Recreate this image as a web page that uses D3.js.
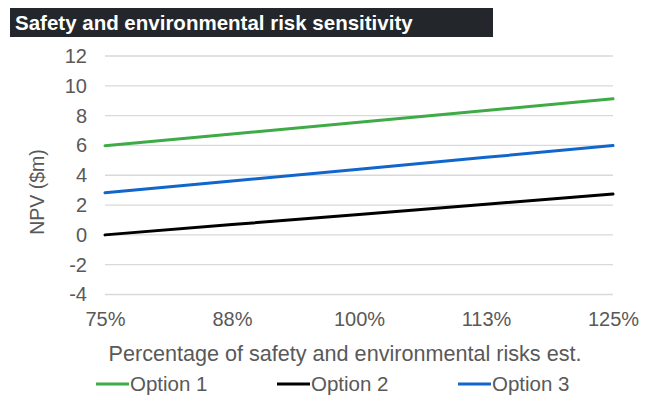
<!DOCTYPE html>
<html>
<head>
<meta charset="utf-8">
<script src="https://cdn.jsdelivr.net/npm/d3@7/dist/d3.min.js"></script>
<style>
  html, body { margin: 0; padding: 0; background: #fff; }
  svg { display: block; }
  text { font-family: "Liberation Sans", Arial, sans-serif; }
</style>
</head>
<body>
<svg id="chart" width="658" height="396"></svg>
<script>
// Risk estimate as a percentage of the base case
const riskPct = [75, 87.5, 100, 112.5, 125];

// NPV ($m) for each option across the risk range
const option1 = [5.98, 6.77, 7.55, 8.34, 9.13];
const option2 = [0.0, 0.69, 1.37, 2.06, 2.74];
const option3 = [2.82, 3.61, 4.41, 5.20, 5.99];

const seriesNames = ["Option 1", "Option 2", "Option 3"];
const seriesColors = ["#3fab47", "#000000", "#1166cc"];
const yTicks = [-4, -2, 0, 2, 4, 6, 8, 10, 12];

const titleText = "Safety and environmental risk sensitivity";
const xTitle = "Percentage of safety and environmental risks est.";
const yTitle = "NPV ($m)";

const series = [option1, option2, option3].map((vals, i) => ({
  name: seriesNames[i],
  color: seriesColors[i],
  values: vals.map((v, j) => ({ x: riskPct[j], y: v }))
}));

const svg = d3.select("#chart");
const textGrey = "#595959";

// Title bar
svg.append("rect")
  .attr("x", 10).attr("y", 8)
  .attr("width", 483).attr("height", 29)
  .attr("fill", "#23272c");
svg.append("text")
  .attr("x", 15).attr("y", 30)
  .attr("fill", "#ffffff")
  .attr("font-size", 20.5)
  .attr("font-weight", "bold")
  .text(titleText);

const plot = { left: 105, right: 613, top: 56, bottom: 294.5 };

const x = d3.scaleLinear().domain([75, 125]).range([plot.left, plot.right]);
const y = d3.scaleLinear().domain([-4, 12]).range([plot.bottom, plot.top]);

// Horizontal gridlines
svg.append("g")
  .selectAll("line")
  .data(yTicks)
  .join("line")
  .attr("x1", plot.left).attr("x2", plot.right)
  .attr("y1", d => y(d)).attr("y2", d => y(d))
  .attr("stroke", "#d9d9d9")
  .attr("stroke-width", 1.3);

// Y axis labels (plain hyphen for negatives)
const yAxis = svg.append("g")
  .attr("transform", `translate(${plot.left},0)`)
  .call(d3.axisLeft(y).tickValues(yTicks).tickSize(0).tickPadding(18)
    .tickFormat(d => String(d)));
yAxis.select(".domain").remove();
yAxis.selectAll("text")
  .attr("fill", textGrey)
  .attr("font-size", 20)
  .attr("font-family", "Liberation Sans, Arial, sans-serif");

// X axis labels
const xAxis = svg.append("g")
  .attr("transform", `translate(0,${plot.bottom})`)
  .call(d3.axisBottom(x).tickValues(riskPct).tickSize(0).tickPadding(17)
    .tickFormat(d => Math.round(d) + "%"));
xAxis.select(".domain").remove();
xAxis.selectAll("text")
  .attr("fill", textGrey)
  .attr("font-size", 20)
  .attr("font-family", "Liberation Sans, Arial, sans-serif");

// Axis titles
svg.append("text")
  .attr("x", 345).attr("y", 361)
  .attr("text-anchor", "middle")
  .attr("fill", textGrey)
  .attr("font-size", 21.6)
  .text(xTitle);

svg.append("text")
  .attr("transform", "translate(44,192) rotate(-90)")
  .attr("text-anchor", "middle")
  .attr("fill", textGrey)
  .attr("font-size", 19.5)
  .text(yTitle);

// Series lines
const line = d3.line().x(d => x(d.x)).y(d => y(d.y));
svg.append("g")
  .selectAll("path")
  .data(series)
  .join("path")
  .attr("d", d => line(d.values))
  .attr("fill", "none")
  .attr("stroke", d => d.color)
  .attr("stroke-width", 3)
  .attr("stroke-linecap", "round");

// Legend
const legendX = [96, 277, 458];
const legend = svg.append("g")
  .selectAll("g")
  .data(series)
  .join("g")
  .attr("transform", (d, i) => `translate(${legendX[i]},384)`);
legend.append("line")
  .attr("x1", 0).attr("x2", 33)
  .attr("y1", 0).attr("y2", 0)
  .attr("stroke", d => d.color)
  .attr("stroke-width", 3);
legend.append("text")
  .attr("x", 34).attr("y", 7)
  .attr("fill", textGrey)
  .attr("font-size", 20.5)
  .text(d => d.name);
</script>
</body>
</html>
